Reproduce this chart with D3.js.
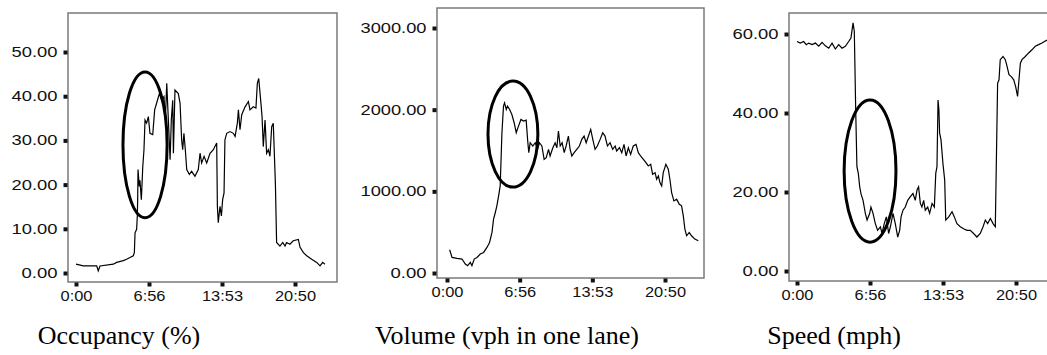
<!DOCTYPE html>
<html><head><meta charset="utf-8">
<script src="https://cdn.jsdelivr.net/npm/d3@7"></script>
<style>
html,body{margin:0;padding:0;background:#fff;overflow:hidden}
svg{display:block}
</style></head>
<body>
<svg id="chart" width="1047" height="355"></svg>
<script>
// ---------- DATA ----------
const xTickValues = [0, 416.67, 833.33, 1250];
const xTickLabels = ["0:00", "6:56", "13:53", "20:50"];

const occTimes = [0,42,118,127,137,213,232,270,289,308,327,333,337,346,350,352,354,361,365,373,381,388,394,403,413,422,438,449,460,476,489,502,510,518,537,544,552,556,565,584,594,603,609,616,624,632,647,660,679,698,708,717,731,746,765,784,793,803,807,812,822,830,837,845,850,860,879,898,908,921,927,936,946,965,984,993,1012,1027,1035,1043,1054,1062,1069,1079,1088,1098,1107,1117,1126,1138,1145,1164,1180,1193,1202,1221,1240,1269,1279,1298,1317,1345,1374,1393,1408,1421];
const occValues = [2.0,1.6,1.6,0.5,1.6,2.0,2.4,2.8,3.1,3.5,3.9,4.6,9.1,9.9,12.9,16.6,23.4,19.6,21.0,16.6,24.0,27.9,34.6,33.9,35.4,31.6,31.3,36.9,38.4,40.6,39.1,39.9,34.6,42.9,25.6,34.6,39.1,27.1,41.4,40.6,38.4,30.1,27.9,31.6,27.9,23.4,22.3,23.0,21.9,23.4,27.1,24.9,26.4,24.9,27.1,27.9,28.6,29.4,15.1,11.4,15.1,12.9,16.6,18.1,30.1,31.6,32.0,31.6,30.9,33.9,36.9,32.4,35.8,37.6,38.8,36.9,37.6,37.3,42.9,44.0,39.1,35.4,28.6,34.6,27.1,27.9,26.4,33.1,33.9,20.4,6.9,6.1,6.9,6.1,6.9,6.5,7.3,7.6,5.8,4.6,3.9,3.1,2.4,1.6,2.4,2.0];
const occTicks = [0, 10, 20, 30, 40, 50];

const volTimes = [15,29,57,86,105,118,134,143,156,172,191,210,229,244,258,267,277,286,296,305,315,324,330,340,347,359,372,385,397,410,424,439,454,462,469,477,492,506,519,530,544,557,569,582,591,607,620,630,639,649,660,672,683,696,706,716,729,744,759,773,786,798,811,824,836,849,862,878,893,906,920,935,950,964,973,989,1002,1015,1027,1040,1053,1068,1084,1097,1110,1126,1141,1154,1168,1179,1193,1202,1212,1221,1231,1240,1255,1269,1278,1288,1301,1317,1332,1345,1355,1364,1374,1389,1402,1421,1441];
const volValues = [285,191,179,171,110,90,130,90,171,191,232,252,313,374,497,659,741,822,944,1066,1718,2043,2084,2002,2043,2002,1941,1840,1718,1799,1880,1860,1872,1636,1473,1595,1555,1595,1514,1595,1555,1392,1412,1514,1433,1534,1595,1534,1738,1555,1595,1473,1555,1677,1514,1433,1473,1514,1555,1636,1677,1595,1677,1758,1636,1514,1555,1636,1718,1677,1555,1595,1514,1555,1494,1534,1473,1575,1433,1534,1453,1555,1575,1473,1433,1392,1351,1311,1331,1209,1229,1148,1188,1107,1066,1229,1331,1270,1148,985,883,904,842,822,700,537,456,497,456,415,395];
const volTicks = [0, 1000, 2000, 3000];

const spdTimes = [0,19,38,53,67,86,105,124,143,162,181,200,219,238,257,276,295,308,320,327,329,335,342,350,358,365,377,390,400,415,422,434,447,460,476,485,498,510,523,533,548,561,575,586,594,605,618,632,647,662,675,685,694,704,713,723,732,746,757,771,784,792,799,805,810,814,822,833,843,849,866,885,898,913,932,951,970,989,1008,1027,1046,1062,1075,1088,1104,1119,1132,1138,1145,1153,1160,1176,1189,1199,1210,1223,1237,1248,1259,1267,1275,1284,1303,1322,1341,1360,1379,1398,1427];
const spdValues = [58.1,57.7,58.1,57.3,57.7,57.3,57.7,56.9,57.9,57.0,56.4,57.7,56.2,57.3,56.4,56.9,58.1,59.0,62.8,60.7,56.0,40.8,26.4,24.7,21.3,19.6,17.9,14.6,12.9,14.6,16.2,14.6,12.0,10.3,11.2,9.5,12.0,13.7,9.5,11.2,14.6,12.0,8.6,10.3,13.7,15.4,16.2,17.9,18.8,19.6,17.9,20.5,21.3,17.1,16.2,17.9,15.4,16.2,14.6,17.1,16.2,24.7,26.4,43.3,40.8,34.9,33.2,27.2,23.0,12.9,13.7,15.0,13.7,12.0,11.2,10.7,10.3,10.3,9.5,8.6,9.5,11.2,12.9,12.0,13.3,12.0,11.2,28.1,47.5,48.4,53.5,54.3,53.5,51.8,49.7,49.2,48.4,46.7,44.2,48.4,52.6,53.5,54.3,55.2,56.0,56.9,57.3,57.7,58.5];
const spdTicks = [0, 20, 40, 60];

const titles = ["Occupancy (%)", "Volume (vph in one lane)", "Speed (mph)"];
// ellipse annotations in data units: [centerTime, centerValue, radiusTime, radiusValue]
const ellipse1 = [394, 29, 126, 16.5];
const ellipse2 = [378, 1701, 143, 649];
const ellipse3 = [417, 25.3, 148, 18];

// ---------- LAYOUT ----------
const panels = [
  {times: occTimes, values: occValues, yTicks: occTicks, yMax: 50, ell: ellipse1, title: titles[0],
   frame: [68, 13, 337, 282], xr: [76, 295], yr: [273, 52], titleX: 119},
  {times: volTimes, values: volValues, yTicks: volTicks, yMax: 3000, ell: ellipse2, title: titles[1],
   frame: [437, 8, 704, 278], xr: [447, 665], yr: [273, 28], titleX: 507},
  {times: spdTimes, values: spdValues, yTicks: spdTicks, yMax: 60, ell: ellipse3, title: titles[2],
   frame: [789, 13, 1062, 281], xr: [797, 1016], yr: [271, 34], titleX: 834}
];

const svg = d3.select("#chart");

function labelWidth(s, digitW, sepW) {
  let w = 0;
  for (const c of s) w += /[0-9]/.test(c) ? digitW : sepW;
  return w;
}

panels.forEach(p => {
  const [fl, ft, fr, fb] = p.frame;
  const x = d3.scaleLinear().domain([0, 1250]).range(p.xr);
  const y = d3.scaleLinear().domain([0, p.yMax]).range(p.yr);
  const g = svg.append("g");

  // frame
  g.append("rect").attr("x", fl).attr("y", ft).attr("width", fr - fl).attr("height", fb - ft)
    .attr("fill", "none").attr("stroke", "#7a7a7a").attr("stroke-width", 1.5);

  // y axis
  const ya = d3.axisLeft(y).tickValues(p.yTicks).tickSize(4).tickPadding(6)
    .tickFormat(d => d3.format(".2f")(d));
  const yg = g.append("g").attr("transform", `translate(${fl - 0.5},0)`).call(ya);
  yg.select(".domain").remove();
  yg.selectAll(".tick line").attr("stroke", "#111").attr("stroke-width", 4);
  yg.selectAll(".tick text").attr("fill", "#111")
    .style("font-family", "'Liberation Sans', Arial, sans-serif").style("font-size", "14px")
    .attr("textLength", function() { return labelWidth(this.textContent, 10, 6); })
    .attr("lengthAdjust", "spacingAndGlyphs");

  // x axis
  const xa = d3.axisBottom(x).tickValues(xTickValues).tickSize(4).tickPadding(5)
    .tickFormat((d, i) => xTickLabels[i]);
  const xg = g.append("g").attr("transform", `translate(0,${fb + 0.5})`).call(xa);
  xg.select(".domain").remove();
  xg.selectAll(".tick line").attr("stroke", "#111").attr("stroke-width", 4);
  xg.selectAll(".tick text").attr("fill", "#111")
    .style("font-family", "'Liberation Sans', Arial, sans-serif").style("font-size", "14px")
    .attr("textLength", function() { return labelWidth(this.textContent, 9, 5); })
    .attr("lengthAdjust", "spacingAndGlyphs");

  // data line
  const data = p.times.map((t, i) => [t, p.values[i]]);
  g.append("path").datum(data)
    .attr("d", d3.line().x(d => x(d[0])).y(d => y(d[1])))
    .attr("fill", "none").attr("stroke", "#000").attr("stroke-width", 1.2)
    .attr("stroke-linejoin", "miter");

  // ellipse annotation
  const [ct, cv, rt, rv] = p.ell;
  g.append("ellipse")
    .attr("cx", x(ct)).attr("cy", y(cv))
    .attr("rx", x(rt) - x(0)).attr("ry", y(0) - y(rv))
    .attr("fill", "none").attr("stroke", "#000").attr("stroke-width", 3);

  // title
  g.append("text").attr("x", p.titleX).attr("y", 344).attr("text-anchor", "middle")
    .style("font-family", "'Liberation Serif', 'Times New Roman', serif").style("font-size", "26px")
    .attr("fill", "#000")
    .text(p.title);
});
</script>
</body></html>
